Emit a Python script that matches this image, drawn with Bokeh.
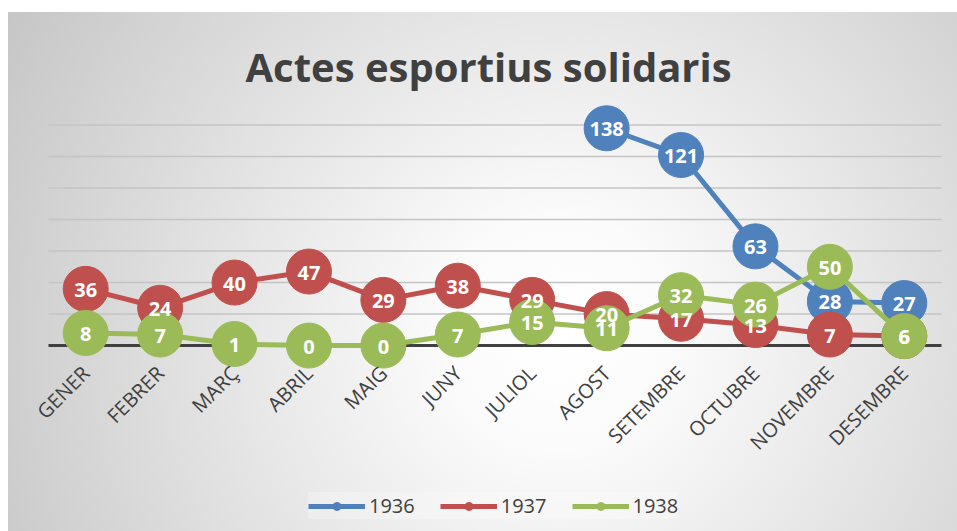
import math
from bokeh.plotting import figure
from bokeh.models import ColumnDataSource, Legend, LegendItem, InlineStyleSheet, FactorRange
from bokeh.core.properties import value
from bokeh.embed import file_html
from bokeh.resources import INLINE

months = ["GENER", "FEBRER", "MARÇ", "ABRIL", "MAIG", "JUNY", "JULIOL",
          "AGOST", "SETEMBRE", "OCTUBRE", "NOVEMBRE", "DESEMBRE"]
y1936 = [None, None, None, None, None, None, None, 138, 121, 63, 28, 27]
y1937 = [36, 24, 40, 47, 29, 38, 29, 20, 17, 13, 7, 6]
y1938 = [8, 7, 1, 0, 0, 7, 15, 11, 32, 26, 50, 6]
series_names = ["1936", "1937", "1938"]
colors = ["#4F81BD", "#C0504D", "#9BBB59"]
grid_ticks = [0, 20, 40, 60, 80, 100, 120, 140]

FONT = "Open Sans"

p = figure(frame_width=925, frame_height=430,
           x_range=FactorRange(*months, range_padding=0.215, range_padding_units="absolute"),
           y_range=(-118.1, 155), output_backend="svg", toolbar_location=None,
           min_border_left=24, min_border_right=0, min_border_top=89,
           min_border_bottom=0, margin=(12, 0, 0, 8))
p.stylesheets = [InlineStyleSheet(css=":host { background: radial-gradient(circle farthest-corner at 58% 62%, #ffffff 0%, #fbfbfb 18%, #c6c6c6 100%); }")]
p.background_fill_color = None
p.border_fill_color = None
p.outline_line_color = None

p.title.text = "Actes esportius solidaris"
p.title.align = "left"
p.title.offset = 213
p.title.text_font = FONT
p.title.text_font_size = "40px"
p.title.text_font_style = "bold"
p.title.text_color = "#404040"
p.title.standoff = 16

p.yaxis.visible = False
p.grid.visible = False

# horizontal grid lines, spanning the category band only
gx0 = [(months[0], -0.5)] * len(grid_ticks)
gx1 = [(months[-1], 0.5)] * len(grid_ticks)
gcol = ["#404040"] + ["#c4c4c4"] * (len(grid_ticks) - 1)
gw = [3] + [1.5] * (len(grid_ticks) - 1)
gsrc = ColumnDataSource(dict(x0=gx0, x1=gx1, y=grid_ticks, c=gcol, w=gw))
p.segment(x0="x0", y0="y", x1="x1", y1="y", source=gsrc, line_color="c", line_width="w")

xa = p.xaxis[0]
xa.fixed_location = 0
xa.axis_line_color = None
xa.major_tick_line_color = None
xa.minor_tick_line_color = None
xa.major_label_orientation = math.pi / 4
xa.major_label_text_font = FONT
xa.major_label_text_font_size = "20px"
xa.major_label_text_color = "#404040"
xa.major_label_standoff = 18

all_series = [y1936, y1937, y1938]
items = []
sources = []
for name, ys, c in zip(series_names, all_series, colors):
    xs = [m for m, v in zip(months, ys) if v is not None]
    vs = [v for v in ys if v is not None]
    src = ColumnDataSource(dict(x=xs, y=vs, t=[str(v) for v in vs]))
    r1 = p.line("x", "y", source=src, line_color=c, line_width=5)
    r2 = p.scatter("x", "y", source=src, size=45, fill_color=c, line_color=c)
    items.append(LegendItem(label=name, renderers=[r1, r2]))
    sources.append(src)

for src in sources:
    p.text("x", "y", text="t", source=src, text_align="center", text_baseline="middle",
           text_font=value(FONT), text_font_style="bold", text_font_size="20px",
           text_color="white", y_offset=1)

legend = Legend(items=items, orientation="horizontal", location=(276, 12),
                label_text_font=FONT, label_text_font_size="20px", label_text_color="#404040",
                glyph_width=57, glyph_height=20, label_standoff=4, spacing=25,
                background_fill_color="white", background_fill_alpha=0.25,
                border_line_color=None, margin=0, padding=6)
p.add_layout(legend, "center")

open("out.html", "w").write(file_html(p, INLINE))
